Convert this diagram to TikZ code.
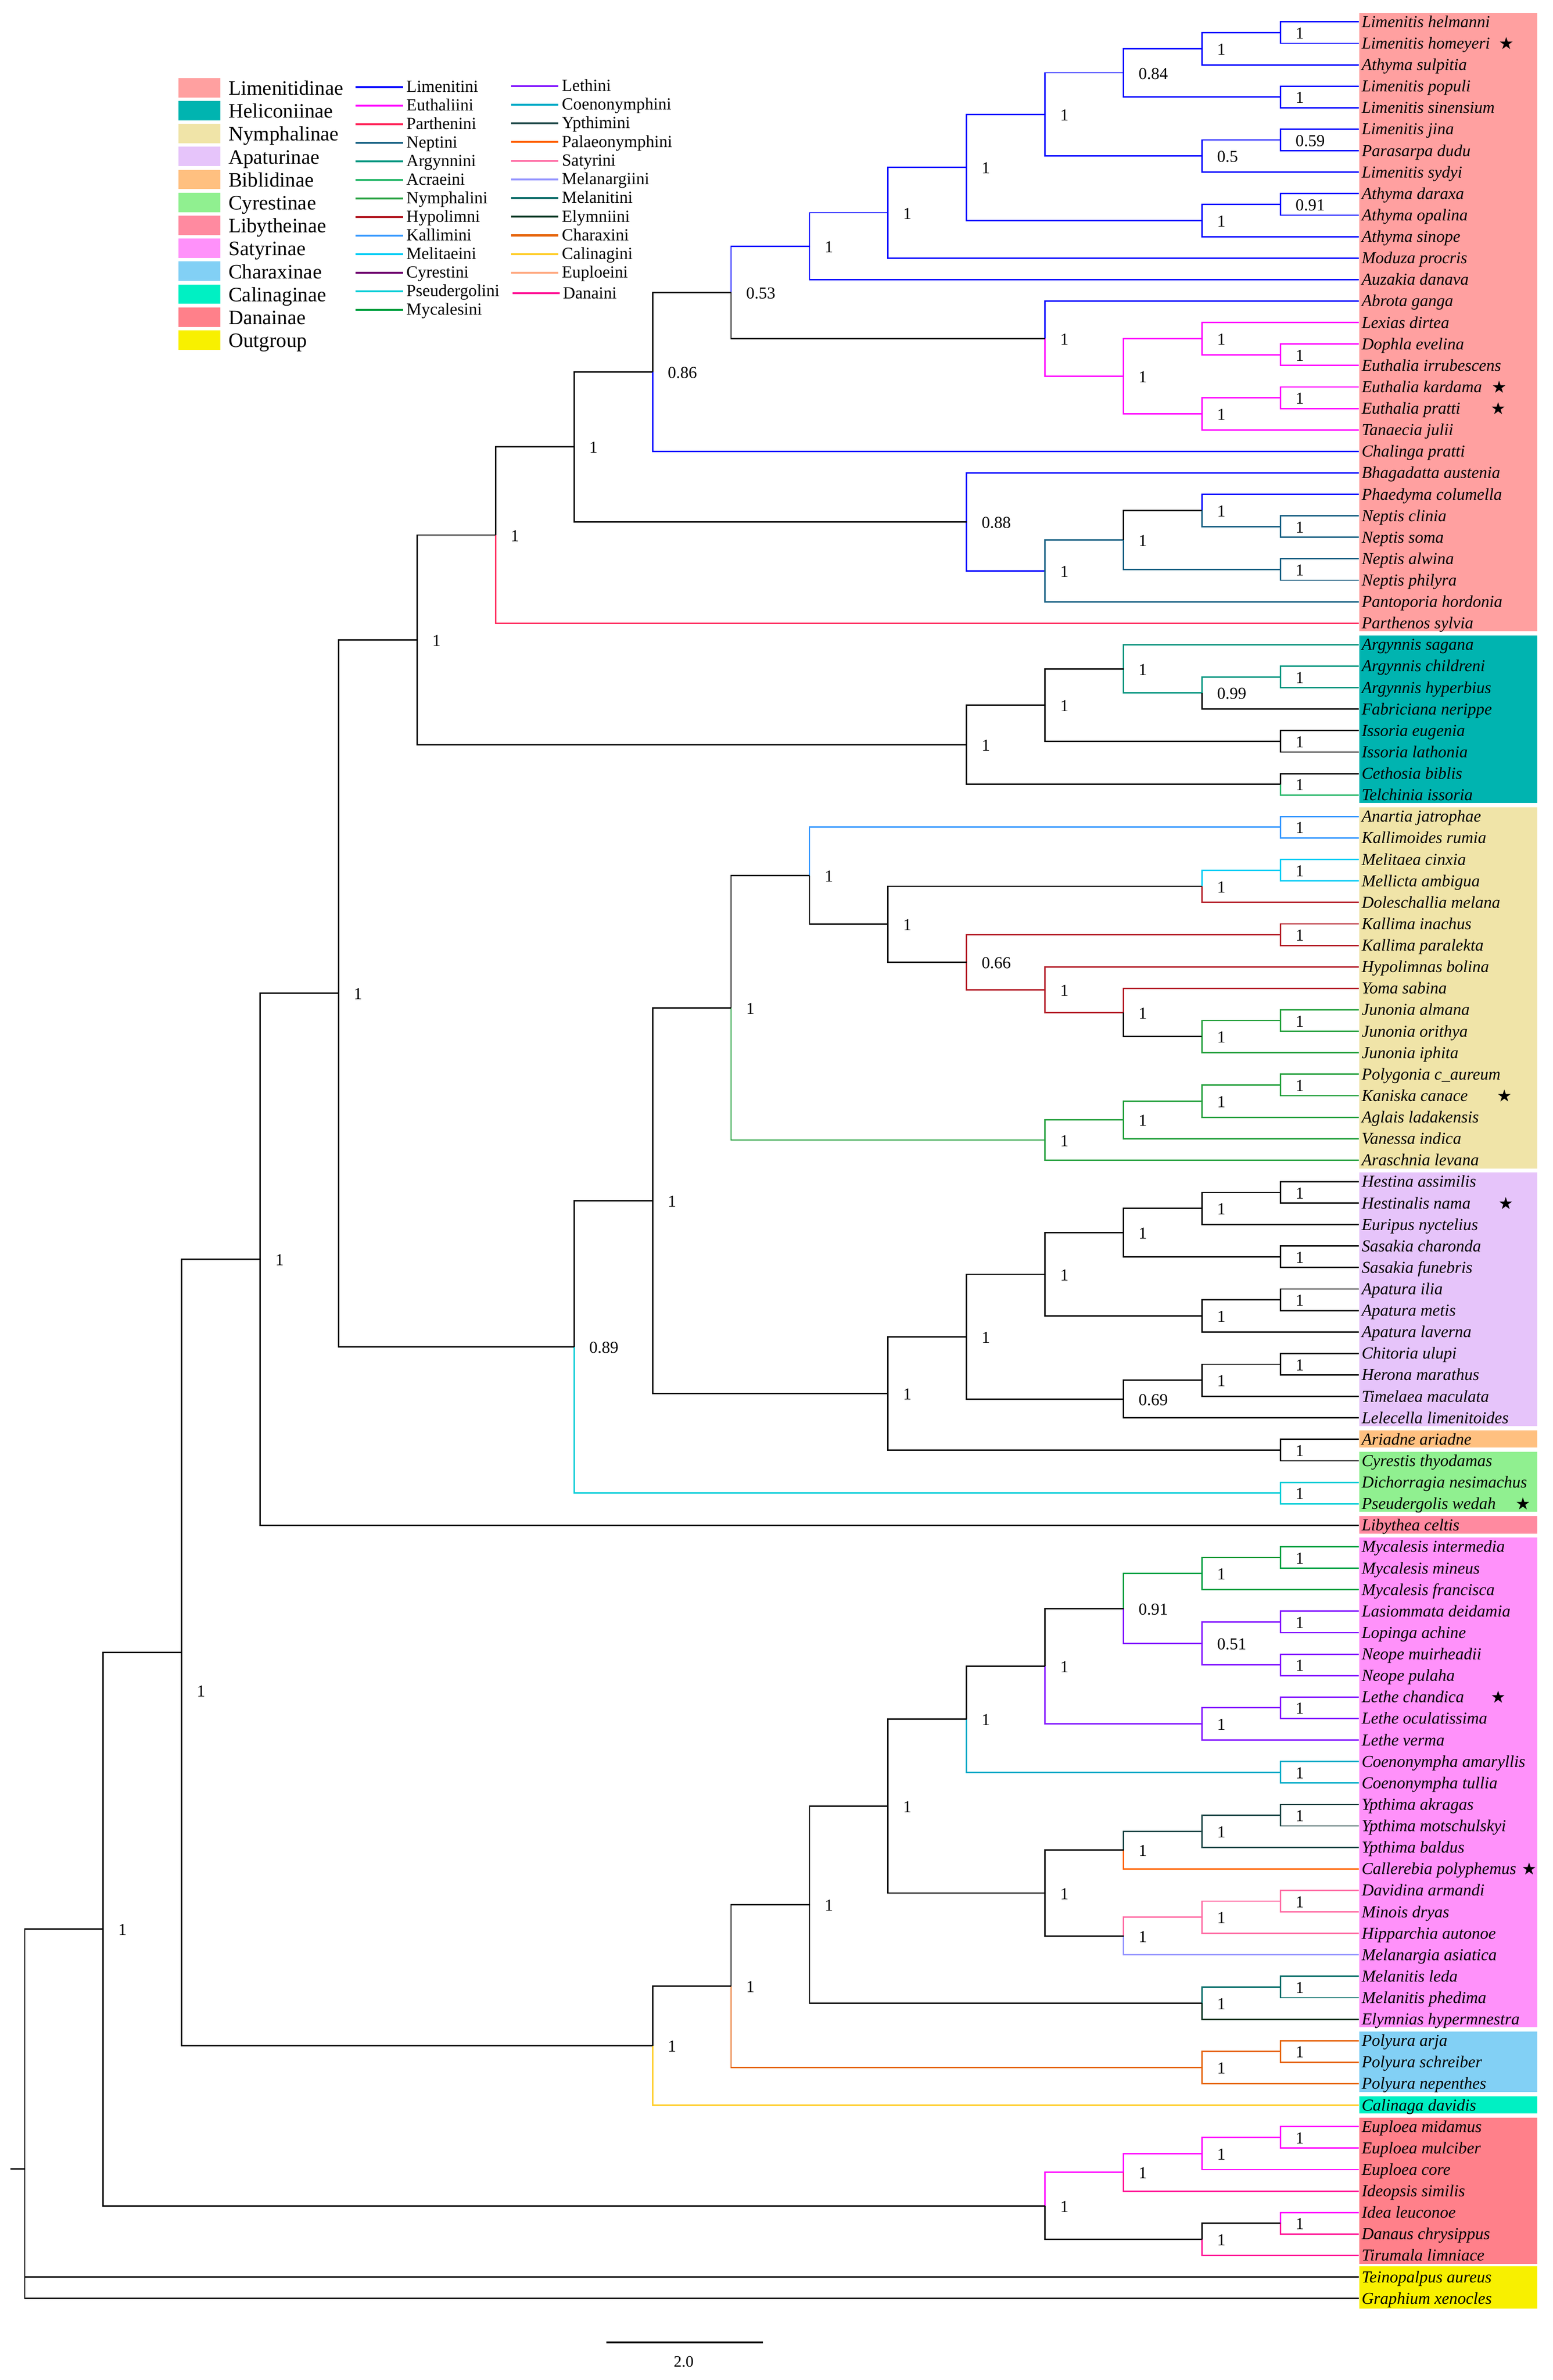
\documentclass[tikz,border=0pt]{standalone}
\usepackage{fontspec}
\setmainfont{Liberation Serif}
\newfontfamily\symf{DejaVu Sans}
\usetikzlibrary{calc}
% branch colours
\definecolor{limc}{RGB}{0,0,255}
\definecolor{euth}{RGB}{255,0,255}
\definecolor{parth}{RGB}{255,45,95}
\definecolor{nept}{RGB}{20,95,130}
\definecolor{argy}{RGB}{0,150,128}
\definecolor{acra}{RGB}{45,185,110}
\definecolor{nymp}{RGB}{35,160,60}
\definecolor{hypo}{RGB}{180,30,40}
\definecolor{kall}{RGB}{50,150,255}
\definecolor{meli}{RGB}{0,205,245}
\definecolor{cyre}{RGB}{110,0,110}
\definecolor{pseu}{RGB}{0,205,215}
\definecolor{myca}{RGB}{0,160,65}
\definecolor{leth}{RGB}{130,20,255}
\definecolor{coen}{RGB}{0,172,200}
\definecolor{ypth}{RGB}{28,70,70}
\definecolor{pala}{RGB}{255,100,0}
\definecolor{satr}{RGB}{255,110,165}
\definecolor{mlng}{RGB}{150,150,255}
\definecolor{mlnt}{RGB}{0,108,104}
\definecolor{elym}{RGB}{0,50,30}
\definecolor{chrx}{RGB}{230,100,10}
\definecolor{clng}{RGB}{255,205,40}
\definecolor{eupl}{RGB}{255,170,130}
\definecolor{dana}{RGB}{255,20,150}
% subfamily box colours
\definecolor{bLim}{RGB}{255,160,160}
\definecolor{bHel}{RGB}{0,180,176}
\definecolor{bNym}{RGB}{240,228,168}
\definecolor{bApa}{RGB}{230,196,250}
\definecolor{bBib}{RGB}{255,192,128}
\definecolor{bCyr}{RGB}{144,240,144}
\definecolor{bLib}{RGB}{255,138,160}
\definecolor{bSat}{RGB}{255,145,250}
\definecolor{bCha}{RGB}{130,208,245}
\definecolor{bCal}{RGB}{0,240,195}
\definecolor{bDan}{RGB}{255,128,138}
\definecolor{bOut}{RGB}{248,240,0}
% internal node: name, level, child a, child b
\newcommand\ND[4]{\path let \p1=($(#3)!0.5!(#4)$) in coordinate (#1) at ({16.3pt+51.75pt*#2},\y1);}
\newcommand\SL[2]{\node[sup] (l#1) at (#1) {#2};}
\newcommand\NDL[5]{\ND{#1}{#2}{#3}{#4}\SL{#1}{#5}}
\newcommand\ED[3]{\draw[br,#1] (#2) |- (#3);}
\newcommand\BX[3]{\fill[#1] ($(t#2)+(0.35,-6)$) rectangle ($(t#3)+(117.75,5.4)$);}
\begin{document}
\begin{tikzpicture}[x=1pt,y=-1pt,
  br/.style={line width=0.9pt},
  tipl/.style={anchor=base west,inner sep=0pt,xshift=1.6pt,yshift=-3.6pt,font=\fontsize{11}{13}\selectfont\itshape},
  sup/.style={anchor=base west,inner sep=0pt,xshift=9.8pt,yshift=-4.1pt,font=\fontsize{11}{13}\selectfont},
  starn/.style={inner sep=0pt,font=\symf\fontsize{11}{13}\selectfont},
  lgs/.style={anchor=base west,inner sep=0pt,yshift=-4.8pt,font=\fontsize{13.5}{15}\selectfont},
  lgt/.style={anchor=base west,inner sep=0pt,yshift=-3.4pt,font=\fontsize{11.2}{13}\selectfont},
  lgl/.style={line width=1.3pt}]
\useasboundingbox (0,0) rectangle (1024,1569.13);
\fill[white] (0,0) rectangle (1024,1569.13);

% tips
\foreach \i in {1,...,107} { \coordinate (t\i) at (896.05,{14.4+(\i-1)*14.16}); }

% subfamily boxes
\BX{bLim}{1}{29}
\BX{bHel}{30}{37}
\BX{bNym}{38}{54}
\BX{bApa}{55}{66}
\BX{bBib}{67}{67}
\BX{bCyr}{68}{70}
\BX{bLib}{71}{71}
\BX{bSat}{72}{94}
\BX{bCha}{95}{97}
\BX{bCal}{98}{98}
\BX{bDan}{99}{105}
\fill[bOut] ($(t106)+(0.35,-7)$) rectangle ($(t107)+(117.75,6.8)$);

% ---- Limenitidinae
\NDL{a1}{16}{t1}{t2}{1}
\NDL{a2}{15}{a1}{t3}{1}
\NDL{a3}{16}{t4}{t5}{1}
\NDL{a4}{14}{a2}{a3}{0.84}
\NDL{a5}{16}{t6}{t7}{0.59}
\NDL{a6}{15}{a5}{t8}{0.5}
\NDL{a7}{13}{a4}{a6}{1}
\NDL{a8}{16}{t9}{t10}{0.91}
\NDL{a9}{15}{a8}{t11}{1}
\NDL{a10}{12}{a7}{a9}{1}
\NDL{a11}{11}{a10}{t12}{1}
\NDL{a12}{10}{a11}{t13}{1}
\NDL{b1}{16}{t16}{t17}{1}
\NDL{b2}{15}{t15}{b1}{1}
\NDL{b3}{16}{t18}{t19}{1}
\NDL{b4}{15}{b3}{t20}{1}
\NDL{b5}{14}{b2}{b4}{1}
\NDL{b6}{13}{t14}{b5}{1}
\NDL{c1}{9}{a12}{b6}{0.53}
\NDL{c2}{8}{c1}{t21}{0.86}
\NDL{d1}{16}{t24}{t25}{1}
\NDL{d2}{15}{t23}{d1}{1}
\NDL{d3}{16}{t26}{t27}{1}
\NDL{d4}{14}{d2}{d3}{1}
\NDL{d5}{13}{d4}{t28}{1}
\NDL{d6}{12}{t22}{d5}{0.88}
\NDL{c3}{7}{c2}{d6}{1}
\NDL{c4}{6}{c3}{t29}{1}
% ---- Heliconiinae
\NDL{e1}{16}{t31}{t32}{1}
\NDL{e2}{15}{e1}{t33}{0.99}
\NDL{e3}{14}{t30}{e2}{1}
\NDL{e4}{16}{t34}{t35}{1}
\NDL{e5}{13}{e3}{e4}{1}
\NDL{e6}{16}{t36}{t37}{1}
\NDL{e7}{12}{e5}{e6}{1}
\NDL{c5}{5}{c4}{e7}{1}
% ---- Nymphalinae
\NDL{f1}{16}{t38}{t39}{1}
\NDL{f2}{16}{t40}{t41}{1}
\NDL{f3}{15}{f2}{t42}{1}
\NDL{f4}{16}{t43}{t44}{1}
\NDL{f5}{16}{t47}{t48}{1}
\NDL{f6}{15}{f5}{t49}{1}
\NDL{f7}{14}{t46}{f6}{1}
\NDL{f8}{13}{t45}{f7}{1}
\NDL{f9}{12}{f4}{f8}{0.66}
\NDL{f10}{11}{f3}{f9}{1}
\NDL{f11}{10}{f1}{f10}{1}
\NDL{f12}{16}{t50}{t51}{1}
\NDL{f13}{15}{f12}{t52}{1}
\NDL{f14}{14}{f13}{t53}{1}
\NDL{f15}{13}{f14}{t54}{1}
\NDL{f16}{9}{f11}{f15}{1}
% ---- Apaturinae etc.
\NDL{g1}{16}{t55}{t56}{1}
\NDL{g2}{15}{g1}{t57}{1}
\NDL{g3}{16}{t58}{t59}{1}
\NDL{g4}{14}{g2}{g3}{1}
\NDL{g5}{16}{t60}{t61}{1}
\NDL{g6}{15}{g5}{t62}{1}
\NDL{g7}{13}{g4}{g6}{1}
\NDL{g8}{16}{t63}{t64}{1}
\NDL{g9}{15}{g8}{t65}{1}
\NDL{g10}{14}{g9}{t66}{0.69}
\NDL{g11}{12}{g7}{g10}{1}
\NDL{g12}{16}{t67}{t68}{1}
\NDL{g13}{11}{g11}{g12}{1}
\NDL{h1}{8}{f16}{g13}{1}
\NDL{h2}{16}{t69}{t70}{1}
\NDL{h3}{7}{h1}{h2}{0.89}
\NDL{c6}{4}{c5}{h3}{1}
\NDL{c7}{3}{c6}{t71}{1}
% ---- Satyrinae
\NDL{s1}{16}{t72}{t73}{1}
\NDL{s2}{15}{s1}{t74}{1}
\NDL{s3}{16}{t75}{t76}{1}
\NDL{s4}{16}{t77}{t78}{1}
\NDL{s5}{15}{s3}{s4}{0.51}
\NDL{s6}{14}{s2}{s5}{0.91}
\NDL{s7}{16}{t79}{t80}{1}
\NDL{s8}{15}{s7}{t81}{1}
\NDL{s9}{13}{s6}{s8}{1}
\NDL{s10}{16}{t82}{t83}{1}
\NDL{s11}{12}{s9}{s10}{1}
\NDL{s12}{16}{t84}{t85}{1}
\NDL{s13}{15}{s12}{t86}{1}
\NDL{s14}{14}{s13}{t87}{1}
\NDL{s15}{16}{t88}{t89}{1}
\NDL{s16}{15}{s15}{t90}{1}
\NDL{s17}{14}{s16}{t91}{1}
\NDL{s18}{13}{s14}{s17}{1}
\NDL{s19}{11}{s11}{s18}{1}
\NDL{s20}{16}{t92}{t93}{1}
\NDL{s21}{15}{s20}{t94}{1}
\NDL{s22}{10}{s19}{s21}{1}
\NDL{k1}{16}{t95}{t96}{1}
\NDL{k2}{15}{k1}{t97}{1}
\NDL{k3}{9}{s22}{k2}{1}
\NDL{k4}{8}{k3}{t98}{1}
\ND{c8}{2}{c7}{k4}
\node[sup] (lc8) at ($(c8)+(0,25)$) {1};
% ---- Danainae
\NDL{m1}{16}{t99}{t100}{1}
\NDL{m2}{15}{m1}{t101}{1}
\NDL{m3}{14}{m2}{t102}{1}
\NDL{m4}{16}{t103}{t104}{1}
\NDL{m5}{15}{m4}{t105}{1}
\NDL{m6}{13}{m3}{m5}{1}
\NDL{c9}{1}{c8}{m6}{1}
% root
\coordinate (r0) at (16.3,1429.9);
\coordinate (rs) at (6.8,1429.9);

% ===== edges
\foreach \p/\c in {a1/t1,a1/t2,a2/a1,a2/t3,a3/t4,a3/t5,a4/a2,a4/a3,a5/t6,a5/t7,a6/a5,a6/t8,a7/a4,a7/a6,a8/t9,a8/t10,a9/a8,a9/t11,a10/a7,a10/a9,a11/a10,a11/t12,a12/a11,a12/t13,c1/a12,b6/t14,c2/t21,d6/t22,d6/d5,d2/t23}
  {\ED{limc}{\p}{\c}}
\foreach \p/\c in {b6/b5,b5/b2,b5/b4,b2/t15,b2/b1,b1/t16,b1/t17,b4/b3,b4/t20,b3/t18,b3/t19}
  {\ED{euth}{\p}{\c}}
\foreach \p/\c in {d5/d4,d5/t28,d4/d3,d2/d1,d1/t24,d1/t25,d3/t26,d3/t27}
  {\ED{nept}{\p}{\c}}
\ED{parth}{c4}{t29}
\foreach \p/\c in {e3/t30,e3/e2,e2/e1,e1/t31,e1/t32}
  {\ED{argy}{\p}{\c}}
\ED{acra}{e6}{t37}
\foreach \p/\c in {f11/f1,f1/t38,f1/t39}
  {\ED{kall}{\p}{\c}}
\foreach \p/\c in {f3/f2,f2/t40,f2/t41}
  {\ED{meli}{\p}{\c}}
\foreach \p/\c in {f3/t42,f9/f4,f9/f8,f4/t43,f4/t44,f8/t45,f8/f7,f7/t46}
  {\ED{hypo}{\p}{\c}}
\foreach \p/\c in {f6/f5,f6/t49,f5/t47,f5/t48,f16/f15,f15/f14,f15/t54,f14/f13,f14/t53,f13/f12,f13/t52,f12/t50,f12/t51}
  {\ED{nymp}{\p}{\c}}
\foreach \p/\c in {h3/h2,h2/t69,h2/t70}
  {\ED{pseu}{\p}{\c}}
\foreach \p/\c in {s6/s2,s2/s1,s2/t74,s1/t72,s1/t73}
  {\ED{myca}{\p}{\c}}
\foreach \p/\c in {s6/s5,s5/s3,s5/s4,s3/t75,s3/t76,s4/t77,s4/t78,s9/s8,s8/s7,s8/t81,s7/t79,s7/t80}
  {\ED{leth}{\p}{\c}}
\foreach \p/\c in {s11/s10,s10/t82,s10/t83}
  {\ED{coen}{\p}{\c}}
\foreach \p/\c in {s14/s13,s13/s12,s13/t86,s12/t84,s12/t85}
  {\ED{ypth}{\p}{\c}}
\ED{pala}{s14}{t87}
\foreach \p/\c in {s17/s16,s16/s15,s16/t90,s15/t88,s15/t89}
  {\ED{satr}{\p}{\c}}
\ED{mlng}{s17}{t91}
\foreach \p/\c in {s21/s20,s20/t92,s20/t93}
  {\ED{mlnt}{\p}{\c}}
\ED{elym}{s21}{t94}
\foreach \p/\c in {k3/k2,k2/k1,k2/t97,k1/t95,k1/t96}
  {\ED{chrx}{\p}{\c}}
\ED{clng}{k4}{t98}
\foreach \p/\c in {m6/m3,m3/m2,m2/m1,m2/t101,m1/t99,m1/t100,m4/t103}
  {\ED{euth}{\p}{\c}}
\foreach \p/\c in {m3/t102,m5/t105,m4/t104}
  {\ED{dana}{\p}{\c}}
\foreach \p/\c in {c1/b6,c2/c1,c3/c2,c3/d6,d4/d2,c4/c3,c5/c4,c5/e7,e7/e5,e7/e6,e5/e3,e5/e4,e4/t34,e4/t35,e2/t33,e6/t36,
  f16/f11,f11/f10,f10/f3,f10/f9,f7/f6,
  g1/t55,g1/t56,g2/g1,g2/t57,g3/t58,g3/t59,g4/g2,g4/g3,g5/t60,g5/t61,g6/g5,g6/t62,g7/g4,g7/g6,g8/t63,g8/t64,g9/g8,g9/t65,g10/g9,g10/t66,g11/g7,g11/g10,g12/t67,g12/t68,g13/g11,g13/g12,
  h1/f16,h1/g13,h3/h1,c6/c5,c6/h3,c7/c6,c7/t71,
  s9/s6,s11/s9,s19/s11,s19/s18,s18/s14,s18/s17,s22/s19,s22/s21,k3/s22,k4/k3,c8/c7,c8/k4,
  m6/m5,m5/m4,c9/c8,c9/m6,r0/c9,r0/t106,r0/t107}
  {\ED{black}{\p}{\c}}
\draw[br] (rs) -- (r0);

% ===== tip labels
\foreach \i/\nm in {1/Limenitis helmanni,2/Limenitis homeyeri,3/Athyma sulpitia,4/Limenitis populi,5/Limenitis sinensium,
 6/Limenitis jina,7/Parasarpa dudu,8/Limenitis sydyi,9/Athyma daraxa,10/Athyma opalina,11/Athyma sinope,12/Moduza procris,
 13/Auzakia danava,14/Abrota ganga,15/Lexias dirtea,16/Dophla evelina,17/Euthalia irrubescens,18/Euthalia kardama,
 19/Euthalia pratti,20/Tanaecia julii,21/Chalinga pratti,22/Bhagadatta austenia,23/Phaedyma columella,24/Neptis clinia,
 25/Neptis soma,26/Neptis alwina,27/Neptis philyra,28/Pantoporia hordonia,29/Parthenos sylvia,30/Argynnis sagana,
 31/Argynnis childreni,32/Argynnis hyperbius,33/Fabriciana nerippe,34/Issoria eugenia,35/Issoria lathonia,36/Cethosia biblis,
 37/Telchinia issoria,38/Anartia jatrophae,39/Kallimoides rumia,40/Melitaea cinxia,41/Mellicta ambigua,42/Doleschallia melana,
 43/Kallima inachus,44/Kallima paralekta,45/Hypolimnas bolina,46/Yoma sabina,47/Junonia almana,48/Junonia orithya,
 49/Junonia iphita,50/Polygonia c\_aureum,51/Kaniska canace,52/Aglais ladakensis,53/Vanessa indica,54/Araschnia levana,
 55/Hestina assimilis,56/Hestinalis nama,57/Euripus nyctelius,58/Sasakia charonda,59/Sasakia funebris,60/Apatura ilia,
 61/Apatura metis,62/Apatura laverna,63/Chitoria ulupi,64/Herona marathus,65/Timelaea maculata,66/Lelecella limenitoides,
 67/Ariadne ariadne,68/Cyrestis thyodamas,69/Dichorragia nesimachus,70/Pseudergolis wedah,71/Libythea celtis,
 72/Mycalesis intermedia,73/Mycalesis mineus,74/Mycalesis francisca,75/Lasiommata deidamia,76/Lopinga achine,
 77/Neope muirheadii,78/Neope pulaha,79/Lethe chandica,80/Lethe oculatissima,81/Lethe verma,82/Coenonympha amaryllis,
 83/Coenonympha tullia,84/Ypthima akragas,85/Ypthima motschulskyi,86/Ypthima baldus,87/Callerebia polyphemus,
 88/Davidina armandi,89/Minois dryas,90/Hipparchia autonoe,91/Melanargia asiatica,92/Melanitis leda,93/Melanitis phedima,
 94/Elymnias hypermnestra,95/Polyura arja,96/Polyura schreiber,97/Polyura nepenthes,98/Calinaga davidis,99/Euploea midamus,
 100/Euploea mulciber,101/Euploea core,102/Ideopsis similis,103/Idea leuconoe,104/Danaus chrysippus,105/Tirumala limniace,
 106/Teinopalpus aureus,107/Graphium xenocles}
 {\node[tipl] (n\i) at (t\i) {\nm};}

% stars
\foreach \i/\dx in {2/97.3,18/92.5,19/92,51/96,56/97,70/108.2,79/91.8,87/112.2}
 {\node[starn] (st\i) at ($(t\i)+(\dx,0)$) {★};}

% ===== legend: subfamilies
\foreach \nm/\col [count=\k from 0] in {Limenitidinae/bLim,Heliconiinae/bHel,Nymphalinae/bNym,Apaturinae/bApa,Biblidinae/bBib,
  Cyrestinae/bCyr,Libytheinae/bLib,Satyrinae/bSat,Charaxinae/bCha,Calinaginae/bCal,Danainae/bDan,Outgroup/bOut}
 {\coordinate (sq\k) at (117.7,{57.8+15.13*\k-6.4});
  \coordinate (sr\k) at (145.2,{57.8+15.13*\k+6.4});
  \fill[\col] (sq\k) rectangle (sr\k);
  \node[lgs] (sn\k) at (150.5,{57.8+15.13*\k}) {\nm};}
% tribes column 1
\foreach \nm/\col [count=\k from 0] in {Limenitini/limc,Euthaliini/euth,Parthenini/parth,Neptini/nept,Argynnini/argy,
  Acraeini/acra,Nymphalini/nymp,Hypolimni/hypo,Kallimini/kall,Melitaeini/meli,Cyrestini/cyre,Pseudergolini/pseu,Mycalesini/myca}
 {\coordinate (ta\k) at (234.4,{57.3+12.24*\k});
  \coordinate (tb\k) at (265.7,{57.3+12.24*\k});
  \draw[lgl,\col] (ta\k) -- (tb\k);
  \node[lgt] (tn\k) at (267.8,{57.3+12.24*\k}) {\nm};}
% tribes column 2
\foreach \nm/\col [count=\k from 0] in {Lethini/leth,Coenonymphini/coen,Ypthimini/ypth,Palaeonymphini/pala,Satyrini/satr,
  Melanargiini/mlng,Melanitini/mlnt,Elymniini/elym,Charaxini/chrx,Calinagini/clng,Euploeini/eupl}
 {\coordinate (ua\k) at (337.2,{56.7+12.31*\k});
  \coordinate (ub\k) at (368.2,{56.7+12.31*\k});
  \draw[lgl,\col] (ua\k) -- (ub\k);
  \node[lgt] (un\k) at (370.3,{56.7+12.31*\k}) {\nm};}
\coordinate (ua11) at (338,193.4);
\coordinate (ub11) at (369,193.4);
\draw[lgl,dana] (ua11) -- (ub11);
\node[lgt] (un11) at (371,193.4) {Danaini};

% scale bar
\coordinate (sb1) at (399.7,1544.4);
\coordinate (sb2) at (503.2,1544.4);
\draw[line width=1.2pt] (sb1) -- (sb2);
\node[inner sep=0pt,font=\fontsize{10.5}{12}\selectfont] (sbl) at (450.8,1557) {2.0};
\end{tikzpicture}
\end{document}
